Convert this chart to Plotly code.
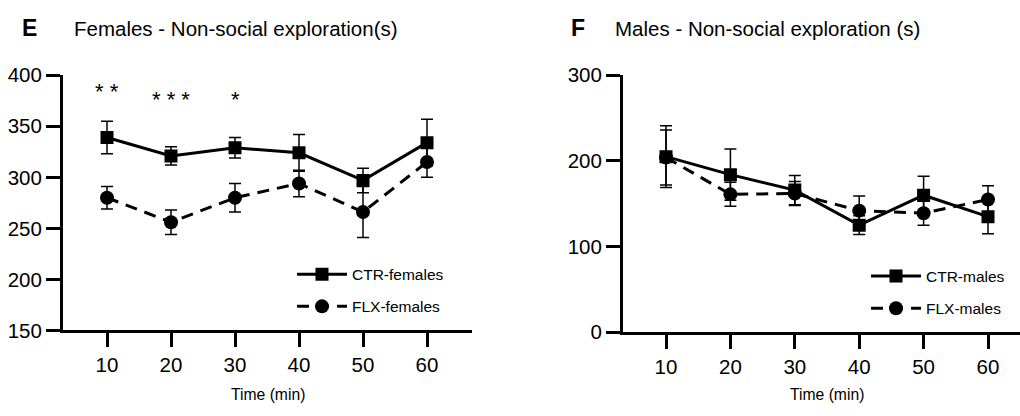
import plotly.graph_objects as go

# ---------------- data ----------------
time_min = [10, 20, 30, 40, 50, 60]

f_ctr_mean = [339, 321, 329, 324, 297, 334]
f_ctr_sem = [16, 9, 10, 18, 12, 23]
f_flx_mean = [280, 256, 280, 294, 266, 315]
f_flx_sem = [11, 12, 14, 13, 25, 15]

m_ctr_mean = [205, 184, 166, 125, 160, 135]
m_ctr_sem = [36, 30, 17, 11, 22, 20]
m_flx_mean = [204, 161, 162, 142, 139, 155]
m_flx_sem = [32, 14, 14, 17, 14, 16]

sig_x = [10, 20, 30]
sig_labels = ["* *", "* * *", "*"]
sig_y = [384.5, 376, 376]

x_ticks = [10, 20, 30, 40, 50, 60]
f_y_ticks = [150, 200, 250, 300, 350, 400]
m_y_ticks = [0, 100, 200, 300]

FONT = "Liberation Sans, Arial, Helvetica, sans-serif"
BLACK = "#000000"

fig = go.Figure()


def add_series(x, y, e, name, xa, ya, symbol, dash, legend, rank, msize):
    fig.add_trace(go.Scatter(
        x=x, y=y, name=name, xaxis=xa, yaxis=ya,
        mode="lines+markers",
        line=dict(color=BLACK, width=3, dash=dash),
        marker=dict(symbol=symbol, size=msize, color=BLACK),
        error_y=dict(type="data", array=e, visible=True,
                     color=BLACK, thickness=1.5, width=6),
        legend=legend, legendrank=rank, legendgroup=name,
    ))


# FLX drawn first so CTR sits on top
add_series(time_min, f_flx_mean, f_flx_sem, "FLX-females", "x", "y",
           "circle", "12px,8px", "legend", 2, 14)
add_series(time_min, f_ctr_mean, f_ctr_sem, "CTR-females", "x", "y",
           "square", "solid", "legend", 1, 13)
add_series(time_min, m_flx_mean, m_flx_sem, "FLX-males", "x2", "y2",
           "circle", "12px,8px", "legend2", 2, 14)
add_series(time_min, m_ctr_mean, m_ctr_sem, "CTR-males", "x2", "y2",
           "square", "solid", "legend2", 1, 13)

axis_common = dict(
    showline=True, linecolor=BLACK, linewidth=3,
    ticks="outside", ticklen=14, tickwidth=3, tickcolor=BLACK,
    showgrid=False, zeroline=False,
    tickfont=dict(family=FONT, size=20.5, color=BLACK),
)

LEG_FONT = dict(family=FONT, size=15.5, color=BLACK)

fig.update_layout(
    width=1020, height=416,
    margin=dict(l=0, r=0, t=0, b=0),
    paper_bgcolor="white", plot_bgcolor="white",
    showlegend=True,
    xaxis=dict(domain=[63 / 1020, 472 / 1020], range=[3.125, 67.03],
               tickvals=x_ticks, anchor="y", **axis_common),
    yaxis=dict(domain=[79 / 416, 349 / 416], range=[150, 400],
               tickvals=f_y_ticks, anchor="x", **axis_common),
    xaxis2=dict(domain=[623 / 1020, 1.0], range=[3.32, 64.97],
                tickvals=x_ticks, anchor="y2", **axis_common),
    yaxis2=dict(domain=[77 / 416, 349 / 416], range=[0, 300],
                tickvals=m_y_ticks, anchor="x2", **axis_common),
    legend=dict(x=292 / 1020, y=(416 - 260) / 416, xanchor="left", yanchor="top",
                bgcolor="rgba(0,0,0,0)", borderwidth=0, font=LEG_FONT,
                traceorder="grouped", tracegroupgap=9, itemwidth=50),
    legend2=dict(x=866 / 1020, y=(416 - 262) / 416, xanchor="left", yanchor="top",
                 bgcolor="rgba(0,0,0,0)", borderwidth=0, font=LEG_FONT,
                 traceorder="grouped", tracegroupgap=9, itemwidth=50),
)

annotations = []
# significance stars
for sx, sl, sy in zip(sig_x, sig_labels, sig_y):
    annotations.append(dict(x=sx, y=sy, xref="x", yref="y", text=sl,
                            showarrow=False,
                            font=dict(family=FONT, size=22, color=BLACK)))

# panel letters and titles
annotations += [
    dict(x=29.5 / 1020, y=(416 - 17) / 416, xref="paper", yref="paper", text="<b>E</b>",
         showarrow=False, xanchor="center", yanchor="middle",
         font=dict(family=FONT, size=23, color=BLACK)),
    dict(x=72 / 1020, y=(416 - 17) / 416, xref="paper", yref="paper",
         text="Females - Non-social exploration(s)",
         showarrow=False, xanchor="left", yanchor="middle",
         font=dict(family=FONT, size=20.5, color=BLACK)),
    dict(x=578 / 1020, y=(416 - 17) / 416, xref="paper", yref="paper", text="<b>F</b>",
         showarrow=False, xanchor="center", yanchor="middle",
         font=dict(family=FONT, size=23, color=BLACK)),
    dict(x=613 / 1020, y=(416 - 17) / 416, xref="paper", yref="paper",
         text="Males - Non-social exploration (s)",
         showarrow=False, xanchor="left", yanchor="middle",
         font=dict(family=FONT, size=20.5, color=BLACK)),
    dict(x=268 / 1020, y=(416 - 405) / 416, xref="paper", yref="paper",
         text="Time (min)", showarrow=False, xanchor="center", yanchor="middle",
         font=dict(family=FONT, size=15.7, color=BLACK)),
    dict(x=827 / 1020, y=(416 - 405) / 416, xref="paper", yref="paper",
         text="Time (min)", showarrow=False, xanchor="center", yanchor="middle",
         font=dict(family=FONT, size=15.7, color=BLACK)),
]
fig.update_layout(annotations=annotations)

fig.write_html("out.html")
